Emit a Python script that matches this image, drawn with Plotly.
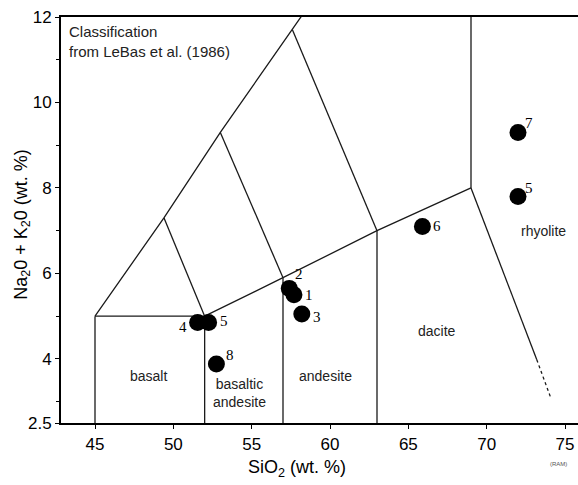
import plotly.graph_objects as go

# Sample data (SiO2, Na2O+K2O)
sample_ids = ["4", "5", "8", "2", "1", "3", "6", "5", "7"]
sio2 = [51.55, 52.25, 52.75, 57.4, 57.7, 58.2, 65.9, 72.0, 72.0]
alkali = [4.85, 4.85, 3.88, 5.65, 5.5, 5.05, 7.1, 7.8, 9.3]
label_dx = [-15, 15, 14, 10, 15, 15, 15, 11, 11]
label_dy = [-4, 2, 9, 14, 0, -3, 0, 8, 9]

# TAS boundary segments (Le Bas et al., 1986)
boundaries_x = [
    [45, 45], [45, 52], [52, 52], [57, 57], [63, 63],
    [45, 49.4, 53, 57.6, 61], [52, 57, 63, 69], [49.4, 52],
    [53, 57], [57.6, 63], [69, 69], [69, 73.2],
]
boundaries_y = [
    [2.5, 5], [5, 5], [2.5, 5], [2.5, 5.9], [2.5, 7],
    [5, 7.3, 9.3, 11.7, 13.5], [5, 5.9, 7, 8], [7.3, 5],
    [9.3, 5.9], [11.7, 7], [8, 12.5], [8, 3.98],
]
dashed_x = [73.2, 74.1]
dashed_y = [3.98, 3.08]

field_names = ["basalt", "basaltic<br>andesite", "andesite", "dacite", "rhyolite"]
field_x = [48.4, 54.2, 59.7, 66.8, 73.6]
field_y = [3.6, 3.2, 3.6, 4.65, 7.0]

x_ticks = [45, 50, 55, 60, 65, 70, 75]
y_ticks = [2.5, 4, 6, 8, 10, 12]
y_minor = [3, 5, 7, 9, 11]

fig = go.Figure()
for bx, by in zip(boundaries_x, boundaries_y):
    fig.add_trace(go.Scatter(x=bx, y=by, mode="lines",
                             line=dict(color="#1a1a1a", width=1.3),
                             hoverinfo="skip", showlegend=False))
fig.add_trace(go.Scatter(x=dashed_x, y=dashed_y, mode="lines",
                         line=dict(color="#1a1a1a", width=1.3, dash="dot"),
                         hoverinfo="skip", showlegend=False))
fig.add_trace(go.Scatter(x=sio2, y=alkali, mode="markers",
                         marker=dict(color="black", size=17),
                         showlegend=False))

for t, x, y, dx, dy in zip(sample_ids, sio2, alkali, label_dx, label_dy):
    fig.add_annotation(x=x, y=y, text=t, showarrow=False, xshift=dx, yshift=dy,
                       font=dict(family="Liberation Serif", size=15, color="black"))

for t, x, y in zip(field_names, field_x, field_y):
    fig.add_annotation(x=x, y=y, text=t, showarrow=False,
                       font=dict(family="Liberation Sans", size=14, color="#222"))

fig.add_annotation(xref="paper", yref="paper", x=0.012, y=0.99, xanchor="left", yanchor="top",
                   align="left", showarrow=False,
                   text="Classification<br>from LeBas et al. (1986)",
                   font=dict(family="Liberation Sans", size=15, color="#222"))

# axis titles as annotations for exact placement
fig.add_annotation(xref="paper", yref="paper", x=0.456, y=-0.112, xanchor="center", yanchor="middle",
                   text="SiO<sub>2</sub> (wt. %)", showarrow=False,
                   font=dict(family="Liberation Sans", size=18, color="black"))
fig.add_annotation(xref="paper", yref="paper", x=-0.076, y=0.49, xanchor="center", yanchor="middle",
                   textangle=-90, text="Na<sub>2</sub>0 + K<sub>2</sub>0 (wt. %)", showarrow=False,
                   font=dict(family="Liberation Sans", size=18, color="black"))
fig.add_annotation(xref="paper", yref="paper", x=0.963, y=-0.102, xanchor="center", yanchor="middle",
                   text="(RAM)", showarrow=False, font=dict(size=6, color="#555"))

fig.update_layout(
    width=578, height=485,
    margin=dict(l=61, r=0, t=17, b=62),
    paper_bgcolor="white", plot_bgcolor="white",
    font=dict(family="Liberation Sans", color="black"),
    xaxis=dict(range=[42.83, 75.83], tickvals=x_ticks, showgrid=False, zeroline=False,
               showline=True, linecolor="black", linewidth=2, mirror=True,
               ticks="outside", ticklen=4, tickcolor="black", automargin=False,
               tickfont=dict(size=17), ticklabelstandoff=1),
    yaxis=dict(range=[2.5, 12], tickvals=y_ticks, ticktext=["2.5", "4", "6", "8", "10", "12"],
               showgrid=False, zeroline=False, automargin=False,
               showline=True, linecolor="black", linewidth=2,
               ticks="outside", ticklen=4, tickcolor="black",
               tickfont=dict(size=17),
               minor=dict(tickvals=y_minor, ticks="outside", ticklen=3, tickcolor="black")),
)

fig.write_html("out.html", config={"displayModeBar": False},
               post_script="document.body.style.margin='0';document.body.style.overflow='hidden';")
